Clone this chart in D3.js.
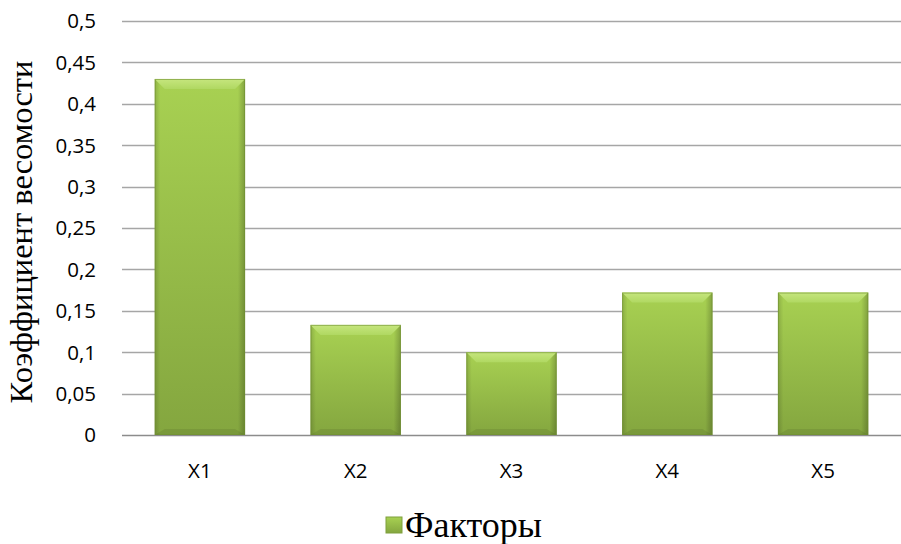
<!DOCTYPE html>
<html><head><meta charset="utf-8">
<script src="https://cdn.jsdelivr.net/npm/d3@7/dist/d3.min.js"></script>
<style>body{margin:0;background:#fff}svg{display:block}
.sans{font-family:"Open Sans","Liberation Sans",sans-serif;font-size:20.5px}
.serif{font-family:"Liberation Serif","Times New Roman","DejaVu Serif",serif}
</style>
</head><body>
<script>
const categories = ["X1","X2","X3","X4","X5"];
const values = [0.43, 0.133, 0.1, 0.172, 0.172];
const yTicks = [0,0.05,0.1,0.15,0.2,0.25,0.3,0.35,0.4,0.45,0.5];
const seriesName = "Факторы";
const yTitle = "Коэффициент весомости";

const W = 901, H = 544;
const m = {left:122, right:0, top:21, bottom:109};
const svg = d3.select("body").append("svg").attr("width",W).attr("height",H);

const x = d3.scaleBand().domain(categories).range([m.left, W - m.right]).padding(0);
const y = d3.scaleLinear().domain([0,0.5]).range([H - m.bottom, m.top]);

const defs = svg.append("defs");
const gv = defs.append("linearGradient").attr("id","gv").attr("x1",0).attr("y1",0).attr("x2",0).attr("y2",1);
gv.append("stop").attr("offset","0%").attr("stop-color","#a8d152");
gv.append("stop").attr("offset","100%").attr("stop-color","#84a63f");
const gh = defs.append("linearGradient").attr("id","gh").attr("x1",0).attr("y1",0).attr("x2",1).attr("y2",0);
gh.append("stop").attr("offset","0%").attr("stop-color","#000").attr("stop-opacity",0.15);
gh.append("stop").attr("offset","6%").attr("stop-color","#000").attr("stop-opacity",0);
gh.append("stop").attr("offset","92%").attr("stop-color","#000").attr("stop-opacity",0);
gh.append("stop").attr("offset","100%").attr("stop-color","#000").attr("stop-opacity",0.22);
const gt = defs.append("linearGradient").attr("id","gt").attr("x1",0).attr("y1",0).attr("x2",0).attr("y2",1);
gt.append("stop").attr("offset","0%").attr("stop-color","#c6e67e");
gt.append("stop").attr("offset","100%").attr("stop-color","#b0d862");

// gridlines
svg.append("g").selectAll("line").data(yTicks).join("line")
  .attr("x1", m.left).attr("x2", W - m.right)
  .attr("y1", d => Math.round(y(d)) + 0.5).attr("y2", d => Math.round(y(d)) + 0.5)
  .attr("stroke", d => d === 0 ? "#8c8c8c" : "#a6a6a6").attr("stroke-width", 1.5);

// y tick labels
const fmt = d => String(+d.toFixed(2)).replace(".", ",");
svg.append("g").selectAll("text").data(yTicks).join("text")
  .attr("class","sans")
  .attr("x", 96).attr("y", d => y(d)).attr("dy","0.36em")
  .attr("text-anchor","end").attr("fill","#000").text(fmt);

// bars
const bw = x.step() * 0.58;
const bars = svg.append("g").selectAll("g").data(categories.map((c,i)=>({c, v: values[i]}))).join("g");
bars.each(function(d){
  const g = d3.select(this);
  const x0 = x(d.c) + (x.bandwidth() - bw)/2, x1 = x0 + bw;
  const yt = y(d.v), yb = y(0);
  g.append("rect").attr("x",x0).attr("y",yt).attr("width",bw).attr("height",yb-yt).attr("fill","url(#gv)");
  g.append("rect").attr("x",x0).attr("y",yt).attr("width",bw).attr("height",yb-yt).attr("fill","url(#gh)");
  const b = 10;
  g.append("path").attr("d",`M${x0},${yt}L${x1},${yt}L${x1-b},${yt+b}L${x0+b},${yt+b}Z`).attr("fill","url(#gt)");
  g.append("path").attr("d",`M${x0},${yb}L${x1},${yb}L${x1-b},${yb-b*0.6}L${x0+b},${yb-b*0.6}Z`).attr("fill","#000").attr("opacity",0.08);
  g.append("rect").attr("x",x0+0.5).attr("y",yt+0.5).attr("width",bw-1).attr("height",yb-yt-1)
    .attr("fill","none").attr("stroke","#6f8f32").attr("stroke-width",1).attr("opacity",0.6);
});

// x labels
svg.append("g").selectAll("text").data(categories).join("text")
  .attr("class","sans")
  .attr("x", d => x(d) + x.bandwidth()/2).attr("y", 478)
  .attr("text-anchor","middle").attr("fill","#000").text(d => d);

// y title
svg.append("text").attr("class","serif").style("font-size","32.5px")
  .attr("transform","translate(32,232) rotate(-90)")
  .attr("text-anchor","middle").attr("fill","#000").text(yTitle);

// legend
const lg = svg.append("g");
lg.append("rect").attr("x",386).attr("y",517).attr("width",16).attr("height",16).attr("fill","url(#gv)").attr("stroke","#7f9f3c").attr("stroke-width",1);
lg.append("text").attr("class","serif").style("font-size","36px").attr("x",405).attr("y",537)
  .attr("fill","#000").text(seriesName);
</script>
</body></html>
